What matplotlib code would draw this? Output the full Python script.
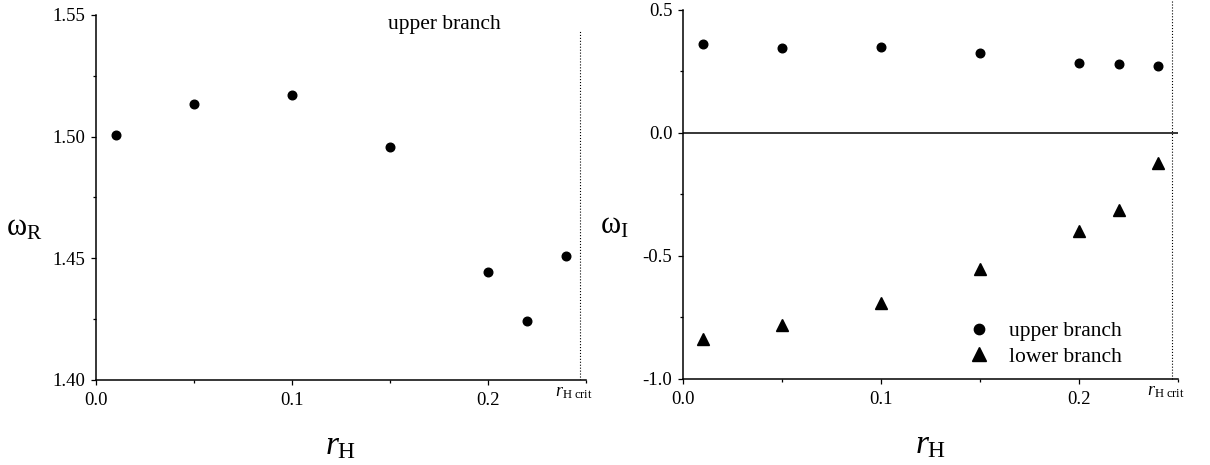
import matplotlib
matplotlib.use('Agg')
import matplotlib.pyplot as plt
from matplotlib.ticker import MultipleLocator

plt.rcParams['font.family'] = ['Liberation Serif', 'DejaVu Serif']
plt.rcParams['mathtext.fontset'] = 'custom'
plt.rcParams['mathtext.rm'] = 'Liberation Serif'
plt.rcParams['mathtext.it'] = 'Liberation Serif:italic'

# data
r_h = [0.01, 0.05, 0.10, 0.15, 0.20, 0.22, 0.24]
omega_r_upper = [1.5007, 1.5136, 1.5171, 1.4956, 1.4443, 1.4244, 1.4509]
omega_i_upper = [0.361, 0.343, 0.350, 0.323, 0.285, 0.279, 0.270]
omega_i_lower = [-0.839, -0.782, -0.692, -0.555, -0.398, -0.313, -0.122]
r_h_crit = 0.247
r_h_crit_label = 0.244


def style_axes(ax):
    ax.spines['top'].set_visible(False)
    ax.spines['right'].set_visible(False)
    for s in ('left', 'bottom'):
        ax.spines[s].set_linewidth(1.1)
    ax.tick_params(which='major', direction='out', length=3.6, width=0.9,
                   labelsize=13.5, pad=4)
    ax.tick_params(which='minor', direction='out', length=2.2, width=0.9)
    ax.tick_params(axis='x', which='major', pad=5)
    ax.set_xlim(0, 0.25)
    ax.xaxis.set_major_locator(MultipleLocator(0.1))
    ax.xaxis.set_minor_locator(MultipleLocator(0.05))
    ax.xaxis.set_major_formatter(plt.FuncFormatter(lambda v, p: f'{v:.1f}'))
    ax.set_xlabel(r'$r_\mathrm{H}$', fontsize=24, va='center')
    ax.xaxis.set_label_coords(0.5, -0.18)
    ax.annotate(r'$r_{\mathrm{H\ crit}}$', xy=(r_h_crit_label, 0),
                xycoords=('data', 'axes fraction'), xytext=(0, -3),
                textcoords='offset points', ha='center', va='top', fontsize=13)


fig = plt.figure(figsize=(12.1, 4.65), dpi=100)
ax1 = fig.add_axes([0.0793, 0.1828, 0.405, 0.785])
ax2 = fig.add_axes([0.5645, 0.185, 0.4091, 0.794])

# left panel: real part
ax1.plot(r_h, omega_r_upper, 'o', color='black', ms=6.2)
ax1.set_ylim(1.40, 1.55)
ax1.yaxis.set_major_locator(MultipleLocator(0.05))
ax1.yaxis.set_minor_locator(MultipleLocator(0.025))
ax1.yaxis.set_major_formatter(plt.FuncFormatter(lambda v, p: f'{v:.2f}'))
ax1.axvline(r_h_crit, ymax=0.959, color='black', ls=':', lw=0.8)
ax1.text(0.712, 0.975, 'upper branch', transform=ax1.transAxes,
         ha='center', va='center', fontsize=15.5)
style_axes(ax1)
ax1.set_ylabel(r'$\mathrm{ω}_\mathrm{R}$', fontsize=22, rotation=0,
               ha='center', va='center')
ax1.yaxis.set_label_coords(-0.146, 0.416)

# right panel: imaginary part
ax2.plot(r_h, omega_i_upper, 'o', color='black', ms=6.2, label='upper branch')
ax2.plot(r_h, omega_i_lower, '^', color='black', ms=8, label='lower branch')
ax2.axhline(0, color='black', lw=1.1)
ax2.set_ylim(-1.0, 0.5)
ax2.yaxis.set_major_locator(MultipleLocator(0.5))
ax2.yaxis.set_minor_locator(MultipleLocator(0.25))
ax2.yaxis.set_major_formatter(plt.FuncFormatter(lambda v, p: f'{v:.1f}'))
ax2.axvline(r_h_crit, ymax=1.03, color='black', ls=':', lw=0.8, clip_on=False)
style_axes(ax2)
ax2.set_ylabel(r'$\mathrm{ω}_\mathrm{I}$', fontsize=22, rotation=0,
               ha='center', va='center')
ax2.yaxis.set_label_coords(-0.139, 0.414)
ax2.legend(loc='upper left', bbox_to_anchor=(0.576, 0.157), frameon=False,
           fontsize=15.5, handlelength=1.0, handletextpad=0.9,
           borderpad=0, borderaxespad=0, labelspacing=0.25, markerscale=1.2)

fig.savefig('out.png', dpi=100)
